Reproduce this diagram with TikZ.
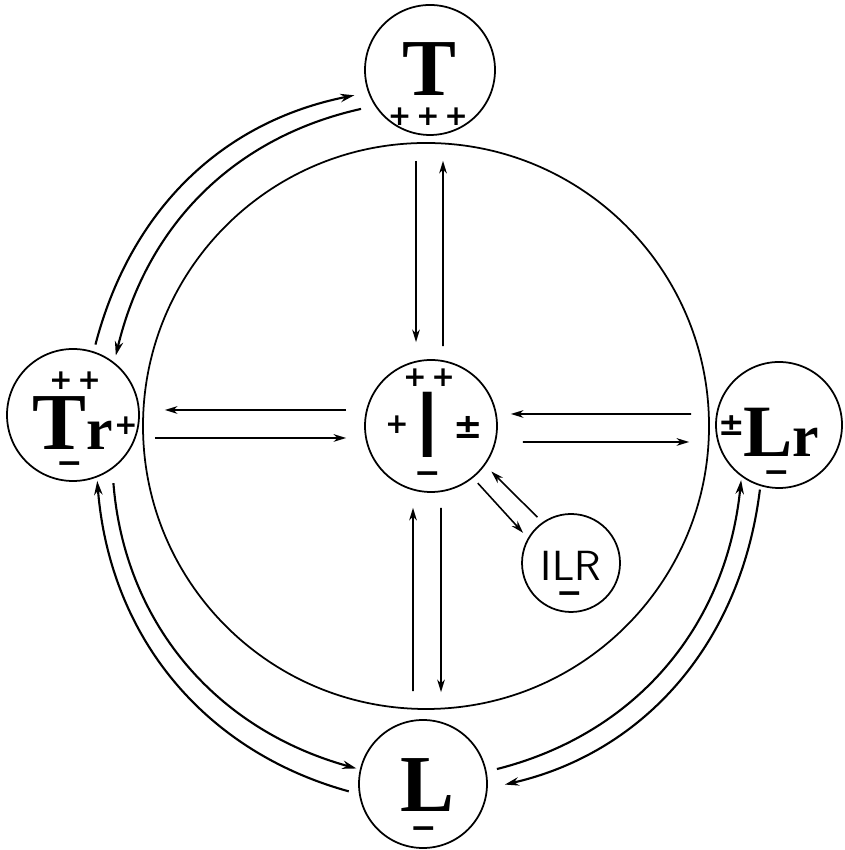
\documentclass[tikz,border=0pt]{standalone}
\usepackage{fontspec}
\setmainfont{Liberation Serif}
\newfontfamily\signfont{DejaVu Sans}
\newfontfamily\barfont{Liberation Sans}
\usetikzlibrary{arrows.meta}

\begin{document}
\begin{tikzpicture}[
        state/.style={circle, draw, line width=0.5pt, inner sep=0pt},
        flow/.style={-{Stealth[length=3.6pt, width=2.2pt]}, line width=0.45pt},
        curv/.style={-{Stealth[length=4pt, width=2.4pt]}, line width=0.6pt},
        big/.style={font=\fontsize{23}{23}\selectfont\bfseries, inner sep=0pt, anchor=base},
        small/.style={font=\fontsize{17}{17}\selectfont\bfseries, inner sep=0pt, anchor=base},
        sg/.style={font=\signfont\bfseries\fontsize{8}{8}\selectfont, inner sep=0pt},
        minus/.style={font=\signfont\bfseries\fontsize{9}{9}\selectfont, inner sep=0pt},
        pm/.style={font=\signfont\bfseries\fontsize{10}{10}\selectfont, inner sep=0pt}]

    \useasboundingbox (0,0) rectangle (8.44,8.50);

    % --- circles
    \node[state, minimum size=5.66cm] (ring) at (4.26,4.24) {};
    \node[state, minimum size=1.30cm] (T)   at (4.30,7.80) {};
    \node[state, minimum size=1.32cm] (Tr)  at (0.73,4.35) {};
    \node[state, minimum size=1.32cm] (I)   at (4.31,4.24) {};
    \node[state, minimum size=1.26cm] (Lr)  at (7.79,4.25) {};
    \node[state, minimum size=1.28cm] (L)   at (4.23,0.66) {};
    \node[state, minimum size=0.98cm] (ILR) at (5.71,2.87) {};

    % --- labels
    \node[big] (Tlet)  at (4.29,7.54) {T};
    \node[sg]  (Tsg)   at (4.28,7.33) {+\,+\,+};

    \node[big]   (Trlet) at (0.59,4.00) {T};
    \node[small] (Trr)   at (1.00,4.00) {r};
    \node[sg]    (Trtop) at (0.75,4.69) {+\,+};
    \node[sg]    (Trsup) at (1.26,4.24) {+};
    \node[minus] (Trbot) at (0.70,3.82) {−};

    \node[font=\fontsize{27}{27}\selectfont\barfont, inner sep=0pt] (Ilet) at (4.28,4.25) {I};
    \node[sg]    (Itop)   at (4.29,4.72) {+\,+};
    \node[sg]    (Ileft)  at (3.97,4.25) {+};
    \node[pm]    (Iright) at (4.68,4.23) {±};
    \node[minus] (Ibot)   at (4.28,3.72) {−};

    \node[pm, font=\signfont\bfseries\fontsize{9}{9}\selectfont] (Lrpm) at (7.32,4.24) {±};
    \node[big, font=\fontsize{21}{21}\selectfont\bfseries] (Lrlet) at (7.68,3.93) {L};
    \node[small] (Lrr)   at (8.06,3.93) {r};
    \node[minus] (Lrbot) at (7.77,3.73) {−};

    \node[font=\fontsize{12}{12}\selectfont\sffamily, inner sep=0pt] (ILRlet) at (5.71,2.84) {ILR};
    \node[minus] (ILRbot) at (5.70,2.52) {−};

    \node[big]   (Llet) at (4.27,0.38) {L};
    \node[minus] (Lbot) at (4.24,0.17) {−};

    % --- outer arcs
    \draw[curv, shorten <=2pt, shorten >=4pt] (Tr.72) to[bend left=32] (T.200);
    \draw[curv, shorten <=4pt, shorten >=2pt] (T.213) to[bend right=32] (Tr.52);
    \draw[curv, shorten <=3pt, shorten >=1pt] (L.189) to[bend left=35] (Tr.-69);
    \draw[curv, shorten <=4pt, shorten >=1pt] (Tr.-54) to[bend right=35] (L.167);
    \draw[curv, shorten <=3pt, shorten >=1pt] (L.11) to[bend right=35] (Lr.-126);
    \draw[curv, shorten <=1pt, shorten >=5pt] (Lr.-107) to[bend left=35] (L.-4);

    % --- vertical
    \draw[flow, shorten <=0.25cm, shorten >=0.17cm] ([xshift=-0.14cm]T.south) -- ([xshift=-0.15cm]I.north);
    \draw[flow, shorten <=0.13cm, shorten >=0.25cm] ([xshift=0.12cm]I.north) -- ([xshift=0.13cm]T.south);
    \draw[flow, shorten <=0.28cm, shorten >=0.15cm] ([xshift=-0.10cm]L.north) -- ([xshift=-0.18cm]I.south);
    \draw[flow, shorten <=0.15cm, shorten >=0.27cm] ([xshift=0.10cm]I.south) -- ([xshift=0.18cm]L.north);

    % --- horizontal
    \draw[flow, shorten <=0.18cm, shorten >=0.25cm] ([yshift=0.16cm]I.west) -- ([yshift=0.05cm]Tr.east);
    \draw[flow, shorten <=0.15cm, shorten >=0.18cm] ([yshift=-0.23cm]Tr.east) -- ([yshift=-0.12cm]I.west);
    \draw[flow, shorten <=0.24cm, shorten >=0.13cm] ([yshift=0.11cm]Lr.west) -- ([yshift=0.12cm]I.east);
    \draw[flow, shorten <=0.25cm, shorten >=0.26cm] ([yshift=-0.16cm]I.east) -- ([yshift=-0.17cm]Lr.west);

    % --- to and from ILR
    \draw[flow, shorten <=2pt, shorten >=2.5pt] (ILR.125) -- (I.-36);
    \draw[flow, shorten <=2pt, shorten >=2pt] (I.-51) -- (ILR.150);

\end{tikzpicture}
\end{document}
